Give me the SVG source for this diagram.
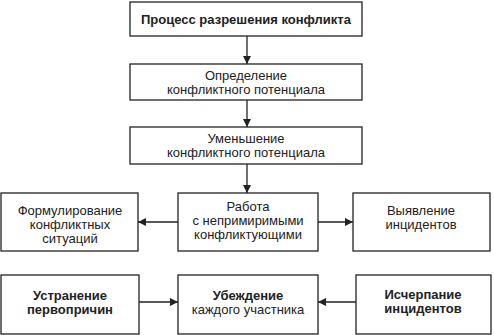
<svg xmlns="http://www.w3.org/2000/svg" width="494" height="335" viewBox="0 0 494 335">
<style>
.box{fill:#fff;stroke:#222;stroke-width:1.3}
.t{font-family:"Liberation Sans",Arial,sans-serif;font-size:13px;fill:#222;text-anchor:middle}
.b{font-weight:bold;font-size:13px}
.c{stroke:#222;stroke-width:1.3;fill:none;marker-end:url(#ah)}
</style>
<defs>
<marker id="ah" viewBox="0 0 10 10" refX="10" refY="5" markerWidth="8" markerHeight="8" markerUnits="userSpaceOnUse" orient="auto">
<path d="M0,0 L10,5 L0,10 z" fill="#222"/>
</marker>
</defs>
<rect width="494" height="335" fill="#fff"/>
<g id="connectors">
<line class="c" x1="247" y1="36" x2="247" y2="64"/>
<line class="c" x1="247" y1="100" x2="247" y2="127"/>
<line class="c" x1="247" y1="164" x2="247" y2="193"/>
<line class="c" x1="178" y1="222" x2="138" y2="222"/>
<line class="c" x1="318" y1="222" x2="353" y2="222"/>
<line class="c" x1="139" y1="302" x2="178" y2="302"/>
<line class="c" x1="356" y1="302" x2="318" y2="302"/>
</g>
<g id="n1"><rect class="box" x="130" y="2" width="232" height="34"/><text class="t b" x="246" y="24">Процесс разрешения конфликта</text></g>
<g id="n2"><rect class="box" x="130" y="64" width="232" height="36"/><text class="t" x="246" y="80">Определение</text><text class="t" x="246" y="94">конфликтного потенциала</text></g>
<g id="n3"><rect class="box" x="130" y="127" width="232" height="37"/><text class="t" x="246" y="143">Уменьшение</text><text class="t" x="246" y="157">конфликтного потенциала</text></g>
<g id="n4"><rect class="box" x="178" y="193" width="140" height="58"/><text class="t" x="248" y="211">Работа</text><text class="t" x="248" y="225">с непримиримыми</text><text class="t" x="248" y="239">конфликтующими</text></g>
<g id="n5"><rect class="box" x="1" y="193" width="137" height="58"/><text class="t" x="70" y="215">Формулирование</text><text class="t" x="70" y="229">конфликтных</text><text class="t" x="70" y="243">ситуаций</text></g>
<g id="n6"><rect class="box" x="353" y="193" width="137" height="58"/><text class="t" x="421" y="215">Выявление</text><text class="t" x="421" y="229">инцидентов</text></g>
<g id="n7"><rect class="box" x="1" y="275" width="138" height="59"/><text class="t b" x="70" y="300">Устранение</text><text class="t b" x="70" y="314">первопричин</text></g>
<g id="n8"><rect class="box" x="178" y="275" width="140" height="59"/><text class="t b" x="248" y="300">Убеждение</text><text class="t" x="248" y="314">каждого участника</text></g>
<g id="n9"><rect class="box" x="356" y="275" width="135" height="59"/><text class="t b" x="423" y="299">Исчерпание</text><text class="t b" x="423" y="313">инцидентов</text></g>
</svg>
